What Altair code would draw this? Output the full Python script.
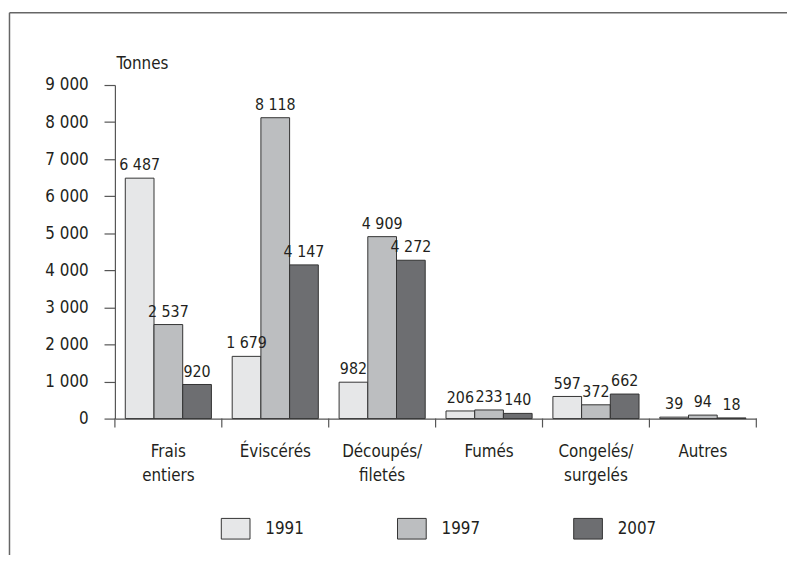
import altair as alt
import pandas as pd

categories = ["Frais entiers", "Éviscérés", "Découpés/filetés", "Fumés", "Congelés/surgelés", "Autres"]
years = ["1991", "1997", "2007"]
v1991 = [6487, 1679, 982, 206, 597, 39]
v1997 = [2537, 8118, 4909, 233, 372, 94]
v2007 = [920, 4147, 4272, 140, 662, 18]
colors = ["#e6e7e8", "#bcbec0", "#6d6e71"]
y_ticks = [0, 1000, 2000, 3000, 4000, 5000, 6000, 7000, 8000, 9000]

rows = []
for yr, vals in zip(years, [v1991, v1997, v2007]):
    for c, v in zip(categories, vals):
        rows.append({"cat": c, "year": yr, "value": v,
                     "label": f"{v:,}".replace(",", " ")})
df = pd.DataFrame(rows)
cat_df = pd.DataFrame({"cat": categories})

FONT = "DejaVu Sans Condensed, sans-serif"
FS = 16
W, H = 648, 337

xscale = alt.Scale(domain=categories, paddingInner=0, paddingOuter=0)
yscale = alt.Scale(domain=[0, 9000], nice=False)

x_axis = alt.Axis(title=None, ticks=False, labelAngle=0, domainColor="#555555",
                  domainWidth=1.2, labelPadding=25, labelLineHeight=25,
                  labelExpr="split(replace(replace(datum.label, '/', '/|'), ' ', '|'), '|')")
y_axis = alt.Axis(values=y_ticks, title="Tonnes", titleAngle=0, titleX=1, titleY=-17,
                  titleAlign="left", titleBaseline="alphabetic", titleFontWeight="normal",
                  titleFont=FONT, titleFontSize=FS + 1, titleColor="#231f20",
                  tickSize=11, labelPadding=16, domainColor="#555555", tickColor="#555555",
                  domainWidth=1.2, tickWidth=1.2, labelOverlap=False,
                  labelExpr="replace(format(datum.value, ','), ',', ' ')")

bars = alt.Chart(df).mark_bar(stroke="#333333", strokeWidth=1).encode(
    x=alt.X("cat:N", scale=xscale, sort=categories, axis=x_axis),
    xOffset=alt.XOffset("year:N", scale=alt.Scale(paddingInner=0, paddingOuter=0.362)),
    y=alt.Y("value:Q", scale=yscale, axis=y_axis),
    color=alt.Color("year:N", scale=alt.Scale(domain=years, range=colors),
                    legend=alt.Legend(title=None, orient="none", direction="horizontal",
                                      legendX=107, legendY=433,
                                      symbolType="M-1,-0.72L1,-0.72L1,0.72L-1,0.72Z",
                                      symbolSize=841, symbolStrokeColor="#333333",
                                      symbolStrokeWidth=1, labelOffset=15, columnPadding=92,
                                      labelFont=FONT, labelFontSize=FS + 1, labelColor="#231f20")),
)

texts = alt.Chart(df).mark_text(baseline="alphabetic", dy=-8, font=FONT, fontSize=FS,
                                color="#231f20").encode(
    x=alt.X("cat:N", scale=xscale, sort=categories, axis=x_axis),
    xOffset=alt.XOffset("year:N"),
    y=alt.Y("value:Q", scale=yscale, axis=y_axis),
    text="label:N",
)

sep_ticks = alt.Chart(cat_df).mark_rule(color="#555555", strokeWidth=1.2).encode(
    x=alt.X("cat:N", scale=xscale, sort=categories, bandPosition=0, axis=x_axis),
    y=alt.value(H), y2=alt.value(H + 9),
)
end_tick = alt.Chart(cat_df).transform_filter(
    alt.datum.cat == categories[-1]
).mark_rule(color="#555555", strokeWidth=1.2).encode(
    x=alt.X("cat:N", scale=xscale, sort=categories, bandPosition=1, axis=x_axis),
    y=alt.value(H), y2=alt.value(H + 9),
)

frame_top = alt.Chart(cat_df).transform_filter(
    alt.datum.cat == categories[0]
).mark_rule(color="#666666", strokeWidth=1.5).encode(
    x=alt.value(-106.5), x2=alt.value(W + 40), y=alt.value(-73),
)
frame_left = alt.Chart(cat_df).transform_filter(
    alt.datum.cat == categories[0]
).mark_rule(color="#666666", strokeWidth=1.5).encode(
    x=alt.value(-106.5), y=alt.value(-73), y2=alt.value(H + 140),
)

chart = alt.layer(
    bars, texts, sep_ticks, end_tick, frame_top, frame_left
).properties(
    width=W, height=H,
    autosize=alt.AutoSizeParams(type="none"),
    padding={"left": 108, "top": 75, "right": 31, "bottom": 135},
).configure_view(stroke=None).configure_axis(
    labelFont=FONT, labelFontSize=FS + 1, labelColor="#231f20", grid=False
)

chart.save("out.html", embed_options={"renderer": "svg", "actions": False})
